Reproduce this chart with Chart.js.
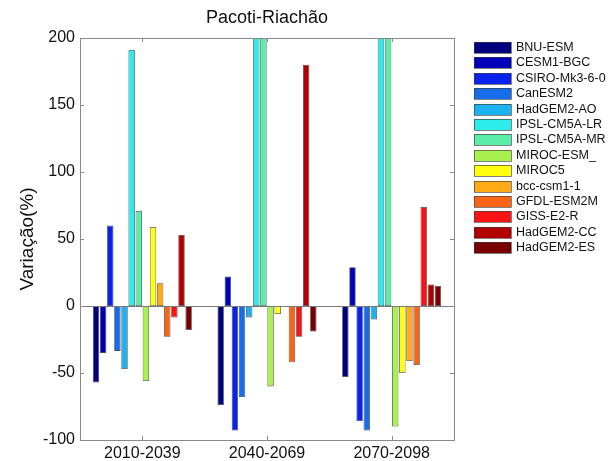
<!DOCTYPE html>
<html>
<head>
<meta charset="utf-8">
<script src="https://cdn.jsdelivr.net/npm/chart.js@4/dist/chart.umd.min.js"></script>
<style>
  html, body { margin: 0; padding: 0; background: #fff; }
  #wrap { width: 611px; height: 461px; }
</style>
</head>
<body>
<div id="wrap"><canvas id="c" width="611" height="461"></canvas></div>
<script>
// Periods on the x axis
const periods = ['2010-2039', '2040-2069', '2070-2098'];

// Climate models (one bar per model in each period)
const models = [
  'BNU-ESM', 'CESM1-BGC', 'CSIRO-Mk3-6-0', 'CanESM2', 'HadGEM2-AO',
  'IPSL-CM5A-LR', 'IPSL-CM5A-MR', 'MIROC-ESM_', 'MIROC5', 'bcc-csm1-1',
  'GFDL-ESM2M', 'GISS-E2-R', 'HadGEM2-CC', 'HadGEM2-ES'
];

// Change (%) per model for each period
const bnuEsm     = [-57, -74, -53];
const cesm1Bgc   = [-35, 22, 29];
const csiroMk3   = [60, -93, -86];
const canEsm2    = [-33.5, -68, -93];
const hadgem2Ao  = [-47, -8.5, -10];
const ipslLr     = [191, 245, 240];
const ipslMr     = [71, 235, 230];
const mirocEsm   = [-56, -60, -90];
const miroc5     = [59, -6, -50];
const bccCsm     = [17, 0, -41];
const gfdlEsm2m  = [-23, -42, -44];
const gissE2r    = [-8.5, -23, 74];
const hadgem2Cc  = [53, 180, 16];
const hadgem2Es  = [-18, -19, 15];

const seriesValues = [
  bnuEsm, cesm1Bgc, csiroMk3, canEsm2, hadgem2Ao, ipslLr, ipslMr,
  mirocEsm, miroc5, bccCsm, gfdlEsm2m, gissE2r, hadgem2Cc, hadgem2Es
];

// Y axis tick values
const yTicks = [-100, -50, 0, 50, 100, 150, 200];

// Jet-like palette, dark blue through dark red
const palette = [
  '#00007e', '#0000b8', '#0a22ee', '#166ceb', '#1cb2f0', '#2eecec', '#5aeea8',
  '#a8f04e', '#ffff10', '#ffaa16', '#fa6414', '#f81414', '#b20000', '#780000'
];

const FONT = 'Liberation Sans, Arial, Helvetica, sans-serif';
const AXIS_GRAY = '#8a8a8a';

const datasets = models.map((m, i) => ({
  label: m,
  data: seriesValues[i],
  backgroundColor: palette[i],
  borderColor: 'rgba(40,40,40,0.85)',
  borderWidth: 0.8,
  borderSkipped: false,
  barPercentage: 0.9,
  categoryPercentage: 0.8
}));

// Frame, inner ticks, zero baseline, title and legend
const decorations = {
  id: 'decorations',
  afterDatasetsDraw(chart) {
    const { ctx, chartArea: a, scales } = chart;
    const y = scales.y, x = scales.x;
    ctx.save();
    // baseline at zero
    ctx.strokeStyle = '#7a7a7a';
    ctx.lineWidth = 1;
    const y0 = Math.round(y.getPixelForValue(0)) + 0.5;
    ctx.beginPath();
    ctx.moveTo(a.left, y0);
    ctx.lineTo(a.right, y0);
    ctx.stroke();
    // box
    ctx.strokeStyle = AXIS_GRAY;
    ctx.strokeRect(Math.round(a.left) + 0.5, Math.round(a.top) + 0.5,
      Math.round(a.right - a.left), Math.round(a.bottom - a.top));
    // inner ticks
    ctx.beginPath();
    yTicks.forEach(v => {
      const py = Math.round(y.getPixelForValue(v)) + 0.5;
      ctx.moveTo(a.left, py); ctx.lineTo(a.left + 4, py);
      ctx.moveTo(a.right, py); ctx.lineTo(a.right - 4, py);
    });
    periods.forEach((p, i) => {
      const px = Math.round(x.getPixelForValue(i)) + 0.5;
      ctx.moveTo(px, a.bottom); ctx.lineTo(px, a.bottom - 4);
      ctx.moveTo(px, a.top); ctx.lineTo(px, a.top + 4);
    });
    ctx.stroke();
    ctx.restore();
  },
  afterDraw(chart) {
    const { ctx, chartArea: a } = chart;
    ctx.save();
    // title
    ctx.fillStyle = '#111';
    ctx.font = '18px ' + FONT;
    ctx.textAlign = 'center';
    ctx.textBaseline = 'middle';
    ctx.fillText('Pacoti-Riachão', (a.left + a.right) / 2, 18);
    // legend
    const lx = 474, ly = 42, step = 15.4, bw = 37, bh = 11;
    ctx.font = '12.5px ' + FONT;
    ctx.textAlign = 'left';
    chart.data.datasets.forEach((ds, i) => {
      const top = Math.round(ly + i * step);
      ctx.fillStyle = ds.backgroundColor;
      ctx.fillRect(lx, top, bw, bh);
      ctx.strokeStyle = 'rgba(60,60,60,0.8)';
      ctx.lineWidth = 0.8;
      ctx.strokeRect(lx + 0.5, top + 0.5, bw, bh);
      ctx.fillStyle = '#111';
      ctx.fillText(ds.label, lx + bw + 5, top + bh / 2 + 0.5);
    });
    ctx.restore();
  }
};

new Chart(document.getElementById('c'), {
  type: 'bar',
  data: { labels: periods, datasets },
  options: {
    responsive: false,
    animation: false,
    devicePixelRatio: 1,
    layout: { padding: { top: 38, right: 157, bottom: 0, left: 0 } },
    plugins: {
      legend: { display: false },
      title: { display: false },
      tooltip: { enabled: false }
    },
    scales: {
      x: {
        grid: { display: false, drawTicks: false },
        border: { display: false },
        ticks: { color: '#111', font: { size: 16, family: FONT }, padding: 4, maxRotation: 0 },
        afterFit(scale) { scale.height = 21; }
      },
      y: {
        min: -100,
        max: 200,
        grid: { display: false, drawTicks: false },
        border: { display: false },
        afterBuildTicks(scale) { scale.ticks = yTicks.map(v => ({ value: v })); },
        ticks: { color: '#111', font: { size: 16, family: FONT }, padding: 5 },
        title: {
          display: true,
          text: 'Variação(%)',
          color: '#111',
          font: { size: 19, family: FONT },
          padding: { top: 16, bottom: 0 }
        },
        afterFit(scale) { scale.width = 80; }
      }
    }
  },
  plugins: [decorations]
});
</script>
</body>
</html>
